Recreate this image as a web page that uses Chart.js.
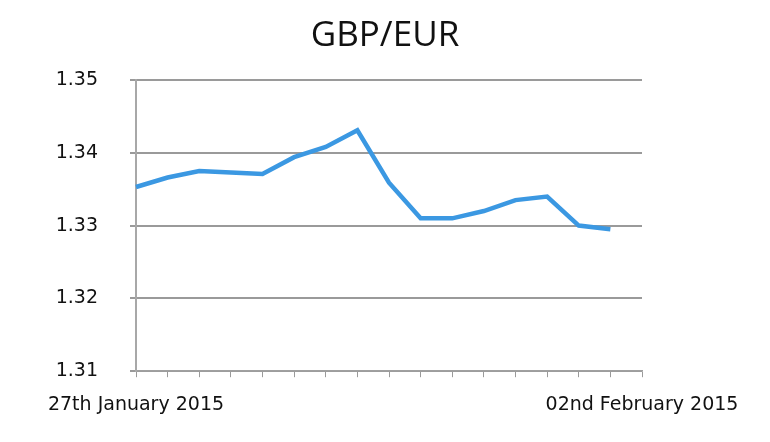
<!DOCTYPE html>
<html>
<head>
<meta charset="utf-8">
<script src="https://cdn.jsdelivr.net/npm/chart.js@4"></script>
<style>
  html, body { margin: 0; padding: 0; background: #ffffff; }
  #wrap { width: 770px; height: 442px; }
</style>
</head>
<body>
<div id="wrap"><canvas id="rateChart" width="770" height="442"></canvas></div>
<script>
// GBP/EUR rate over the week, one point per tick (last tick has no reading)
const dateLabels = [
    '27th January 2015', '', '', '', '', '', '', '', '',
    '', '', '', '', '', '', '', '02nd February 2015'
];
const gbpEurRates = [
    1.3353, 1.3366, 1.3375, 1.3373, 1.3371, 1.3394, 1.3408, 1.3431,
    1.3359, 1.3310, 1.3310, 1.3320, 1.3335, 1.3340, 1.3300, 1.3295, null
];
const yTicks = [1.31, 1.32, 1.33, 1.34, 1.35];

const tickFont = { family: '"DejaVu Sans", sans-serif', size: 19 };

function renderRateChart() {
    const ctx = document.getElementById('rateChart').getContext('2d');

    new Chart(ctx, {
        type: 'line',
        data: {
            labels: dateLabels,
            datasets: [{
                label: 'GBP/EUR',
                data: gbpEurRates,
                borderColor: '#3b98e2',
                borderWidth: 4.5,
                pointRadius: 0,
                tension: 0,
                fill: false,
                spanGaps: false
            }]
        },
        options: {
            responsive: false,
            animation: false,
            layout: {
                padding: { left: 0, right: 0, top: 0, bottom: 10 }
            },
            plugins: {
                legend: { display: false },
                tooltip: { enabled: false },
                title: {
                    display: true,
                    text: 'GBP/EUR',
                    color: '#111111',
                    font: { family: '"Open Sans", sans-serif', size: 35, weight: 'normal', lineHeight: 1.2 },
                    padding: { top: 15, bottom: 23 }
                }
            },
            scales: {
                x: {
                    offset: false,
                    // keep the plot's right edge at 642px, leave the title centred on the page
                    afterFit: scale => { scale.paddingRight = 128; },
                    grid: {
                        drawOnChartArea: false,
                        drawTicks: true,
                        tickLength: 6,
                        color: '#9a9a9a',
                        lineWidth: 1
                    },
                    border: { display: true, color: '#a0a0a0', width: 1.5 },
                    ticks: {
                        autoSkip: false,
                        maxRotation: 0,
                        minRotation: 0,
                        padding: 16,
                        color: '#111111',
                        font: tickFont
                    }
                },
                y: {
                    min: yTicks[0],
                    max: yTicks[yTicks.length - 1],
                    afterFit: scale => { scale.width = 136; },
                    afterBuildTicks: scale => {
                        scale.ticks = yTicks.map(v => ({ value: v }));
                    },
                    grid: {
                        drawTicks: true,
                        tickLength: 6,
                        color: '#9a9a9a',
                        lineWidth: 2
                    },
                    border: { display: true, color: '#a8a8a8', width: 2 },
                    ticks: {
                        padding: 32,
                        color: '#111111',
                        font: tickFont,
                        callback: value => value.toFixed(2)
                    }
                }
            }
        }
    });
}

renderRateChart();
</script>
</body>
</html>
